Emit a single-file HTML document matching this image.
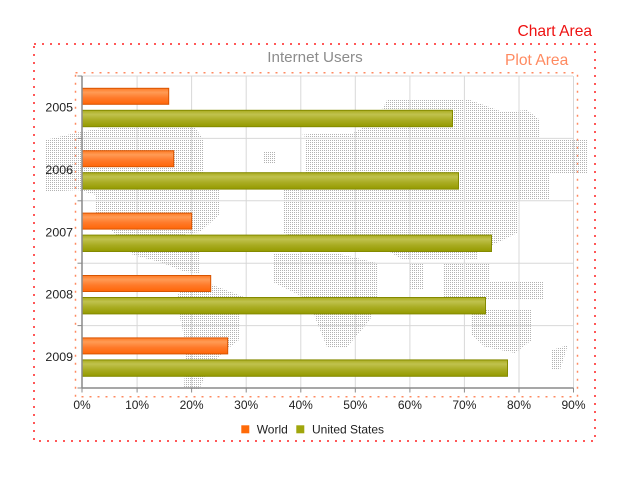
<!DOCTYPE html>
<html>
<head>
<meta charset="utf-8">
<style>
html,body{margin:0;padding:0;background:#fff;}
svg{display:block;}
text{font-family:"Liberation Sans",Arial,sans-serif;}
</style>
</head>
<body>
<svg width="627" height="477" viewBox="0 0 627 477" xmlns="http://www.w3.org/2000/svg">
<defs>
  <pattern id="dots" x="0" y="0" width="2" height="2" patternUnits="userSpaceOnUse">
    <rect x="0" y="0" width="1" height="1" fill="#b2b2b2"/>
  </pattern>
  <linearGradient id="gW" x1="0" y1="0" x2="0" y2="1">
    <stop offset="0" stop-color="#ff7a24"/>
    <stop offset="0.25" stop-color="#ff9b55"/>
    <stop offset="0.6" stop-color="#ff7a2a"/>
    <stop offset="1" stop-color="#ff6608"/>
  </linearGradient>
  <linearGradient id="gU" x1="0" y1="0" x2="0" y2="1">
    <stop offset="0" stop-color="#a9ab1e"/>
    <stop offset="0.25" stop-color="#c0c24e"/>
    <stop offset="0.6" stop-color="#a9ac22"/>
    <stop offset="1" stop-color="#949a00"/>
  </linearGradient>
</defs>

<!-- labels top -->
<text x="517.5" y="36" font-size="15.6" fill="#ee1111">Chart Area</text>
<text x="505" y="65" font-size="15.6" fill="#ff8a60">Plot Area</text>
<text x="315" y="62" font-size="15.2" fill="#8c8c8c" text-anchor="middle">Internet Users</text>

<!-- chart area dashed -->
<rect x="34" y="44" width="561" height="397" fill="none" stroke="#ff2020" stroke-width="1.5" stroke-dasharray="2 6"/>
<!-- plot area dashed -->
<rect x="75.5" y="72.7" width="502" height="324" fill="none" stroke="#ff8a60" stroke-width="1.5" stroke-dasharray="2 6"/>

<!-- world map (dotted) -->
<g fill="url(#dots)">
  <polygon points="45,140 80,132 108,127 193,125 204,140 204,172 219,190 219,215 200,232 185,234 200,253 199,273 185,272 160,262 133,255 114,233 96,215 96,195 78,190 45,192"/>
  <polygon points="184,280 200,280 244,297 239,313 239,340 226,350 210,365 199,390 184,388 186,345 176,300"/>
  <polygon points="263,152 276,152 276,163 263,163"/>
  <polygon points="300,135 320,133 353,133 377,120 387,100 403,100 447,100 470,100 503,112 527,110 540,120 540,140 587,140 587,173 550,173 550,200 517,200 517,233 503,240 477,252 477,260 403,260 390,252 336,252 283,233 283,190 306,172 306,137"/>
  <polygon points="273,253 336,253 377,263 377,300 370,320 347,347 327,347 316,320 309,300 273,282"/>
  <polygon points="410,263 423,263 423,290 410,290"/>
  <polygon points="443,263 490,263 490,300 443,300"/>
  <polygon points="463,282 543,282 543,300 463,300"/>
  <polygon points="472,310 532,310 532,340 515,353 485,347 472,335"/>
  <polygon points="552,350 568,345 560,370 552,370"/>
</g>

<!-- grid -->
<g stroke="#d8d8d8" stroke-width="1">
  <line x1="82" y1="76" x2="573" y2="76"/>
  <line x1="82" y1="138.4" x2="573" y2="138.4"/>
  <line x1="82" y1="200.8" x2="573" y2="200.8"/>
  <line x1="82" y1="263.2" x2="573" y2="263.2"/>
  <line x1="82" y1="325.6" x2="573" y2="325.6"/>
  <line x1="137.1" y1="76" x2="137.1" y2="388"/>
  <line x1="191.6" y1="76" x2="191.6" y2="388"/>
  <line x1="246.2" y1="76" x2="246.2" y2="388"/>
  <line x1="300.8" y1="76" x2="300.8" y2="388"/>
  <line x1="355.3" y1="76" x2="355.3" y2="388"/>
  <line x1="409.9" y1="76" x2="409.9" y2="388"/>
  <line x1="464.4" y1="76" x2="464.4" y2="388"/>
  <line x1="519" y1="76" x2="519" y2="388"/>
  <line x1="573.5" y1="76" x2="573.5" y2="388"/>
</g>

<!-- bars -->
<g stroke-width="1">
  <rect x="82" y="88.3" width="86.7" height="16" fill="url(#gW)" stroke="#d85400"/>
  <rect x="82" y="110.3" width="370.5" height="16.4" fill="url(#gU)" stroke="#848a00"/>

  <rect x="82" y="150.7" width="91.7" height="16" fill="url(#gW)" stroke="#d85400"/>
  <rect x="82" y="172.7" width="376.5" height="16.4" fill="url(#gU)" stroke="#848a00"/>

  <rect x="82" y="213.1" width="109.7" height="16" fill="url(#gW)" stroke="#d85400"/>
  <rect x="82" y="235.1" width="409.5" height="16.4" fill="url(#gU)" stroke="#848a00"/>

  <rect x="82" y="275.5" width="128.7" height="16" fill="url(#gW)" stroke="#d85400"/>
  <rect x="82" y="297.5" width="403.5" height="16.4" fill="url(#gU)" stroke="#848a00"/>

  <rect x="82" y="337.9" width="145.7" height="16" fill="url(#gW)" stroke="#d85400"/>
  <rect x="82" y="359.9" width="425.5" height="16.4" fill="url(#gU)" stroke="#848a00"/>
</g>

<!-- axes -->
<g stroke="#8a8a8a" stroke-width="1.5">
  <line x1="82" y1="76" x2="82" y2="388.5"/>
  <line x1="82" y1="388" x2="573.5" y2="388"/>
</g>
<g stroke="#8a8a8a" stroke-width="1">
  <line x1="77.5" y1="76" x2="82" y2="76"/>
  <line x1="77.5" y1="138.4" x2="82" y2="138.4"/>
  <line x1="77.5" y1="200.8" x2="82" y2="200.8"/>
  <line x1="77.5" y1="263.2" x2="82" y2="263.2"/>
  <line x1="77.5" y1="325.6" x2="82" y2="325.6"/>
  <line x1="77.5" y1="388" x2="82" y2="388"/>
  <line x1="82" y1="388" x2="82" y2="392.5"/>
  <line x1="137.1" y1="388" x2="137.1" y2="392.5"/>
  <line x1="191.6" y1="388" x2="191.6" y2="392.5"/>
  <line x1="246.2" y1="388" x2="246.2" y2="392.5"/>
  <line x1="300.8" y1="388" x2="300.8" y2="392.5"/>
  <line x1="355.3" y1="388" x2="355.3" y2="392.5"/>
  <line x1="409.9" y1="388" x2="409.9" y2="392.5"/>
  <line x1="464.4" y1="388" x2="464.4" y2="392.5"/>
  <line x1="519" y1="388" x2="519" y2="392.5"/>
  <line x1="573.5" y1="388" x2="573.5" y2="392.5"/>
</g>

<!-- y labels -->
<g font-size="12.4" fill="#222" text-anchor="end">
  <text x="73" y="111.5">2005</text>
  <text x="73" y="173.9">2006</text>
  <text x="73" y="236.3">2007</text>
  <text x="73" y="298.7">2008</text>
  <text x="73" y="361.1">2009</text>
</g>

<!-- x labels -->
<g font-size="12" fill="#222" text-anchor="middle">
  <text x="82" y="409">0%</text>
  <text x="137.1" y="409">10%</text>
  <text x="191.6" y="409">20%</text>
  <text x="246.2" y="409">30%</text>
  <text x="300.8" y="409">40%</text>
  <text x="355.3" y="409">50%</text>
  <text x="409.9" y="409">60%</text>
  <text x="464.4" y="409">70%</text>
  <text x="519" y="409">80%</text>
  <text x="573.5" y="409">90%</text>
</g>

<!-- legend -->
<rect x="241.3" y="425.3" width="8" height="8" fill="#ff6a08"/>
<text x="256.7" y="433.5" font-size="12" fill="#222">World</text>
<rect x="296.3" y="425.3" width="8" height="8" fill="#a0a60c"/>
<text x="312" y="433.5" font-size="12" fill="#222">United States</text>
</svg>
</body>
</html>
